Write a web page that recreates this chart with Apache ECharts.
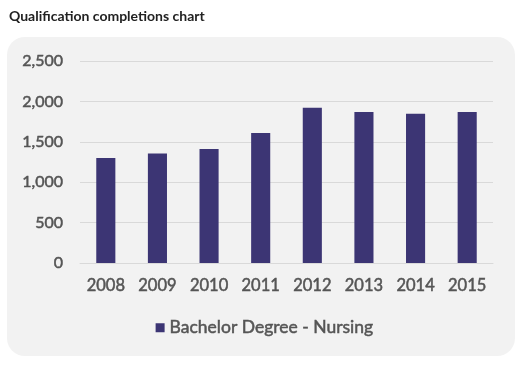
<!DOCTYPE html>
<html><head><meta charset="utf-8">
<script src="https://cdn.jsdelivr.net/npm/echarts@6/dist/echarts.min.js"></script>
<style>html,body{margin:0;padding:0;background:#fff;}#c{width:529px;height:366px;}</style>
</head><body><div id="c"></div>
<script>
const categories = ['2008','2009','2010','2011','2012','2013','2014','2015'];
const seriesName = 'Bachelor Degree - Nursing';
const values = [1300, 1355, 1410, 1610, 1920, 1870, 1848, 1870];
const yTicks = [0, 500, 1000, 1500, 2000, 2500];

const chart = echarts.init(document.getElementById('c'));
const fontFam = 'Lato, "Open Sans", sans-serif';
const txtCol = '#555555';
chart.setOption({
  backgroundColor: '#ffffff',
  animation: false,
  title: {
    text: 'Qualification completions chart',
    left: 4, top: 4,
    textStyle: { fontFamily: 'Lato, sans-serif', fontSize: 14, fontWeight: 'bold', color: '#222' }
  },
  graphic: [{
    type: 'rect', z: -10,
    shape: { x: 7, y: 37, width: 508, height: 319, r: 18 },
    style: { fill: '#f2f2f2' }
  }],
  grid: { left: 80, right: 36, top: 61, bottom: 103 },
  xAxis: {
    type: 'category', data: categories,
    axisLine: { show: true, lineStyle: { color: '#d9d9d9' } },
    axisTick: { show: false },
    axisLabel: { color: txtCol, fontSize: 16.5, fontFamily: fontFam, margin: 14,
      textBorderColor: txtCol, textBorderWidth: 0.5 }
  },
  yAxis: {
    type: 'value', min: yTicks[0], max: yTicks[yTicks.length - 1], interval: 500,
    axisLine: { show: false }, axisTick: { show: false },
    splitLine: { lineStyle: { color: '#d9d9d9' } },
    axisLabel: {
      color: txtCol, fontSize: 16, fontFamily: fontFam, margin: 17,
      textBorderColor: txtCol, textBorderWidth: 0.5,
      formatter: v => v.toLocaleString('en-US')
    }
  },
  legend: {
    data: [seriesName], bottom: 24, left: 'center',
    icon: 'rect', itemWidth: 9, itemHeight: 9, itemGap: 7,
    textStyle: { color: txtCol, fontSize: 17.5, fontFamily: fontFam,
      textBorderColor: txtCol, textBorderWidth: 0.5 }
  },
  series: [{
    name: seriesName, type: 'bar', data: values,
    barWidth: '37%',
    itemStyle: { color: '#3c3574' }
  }]
});
</script></body></html>
